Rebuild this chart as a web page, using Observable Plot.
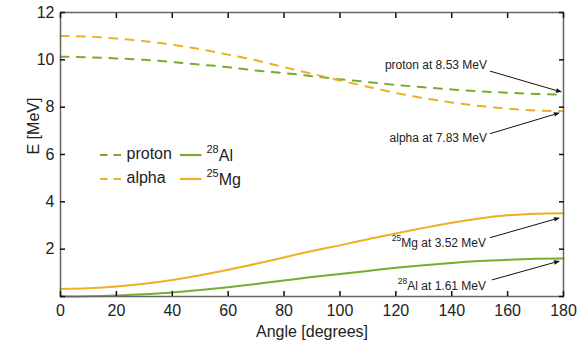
<!DOCTYPE html>
<html>
<head>
<meta charset="utf-8">
<script src="https://cdn.jsdelivr.net/npm/d3@7"></script>
<script src="https://cdn.jsdelivr.net/npm/@observablehq/plot@0.6"></script>
<style>
  html, body { margin: 0; padding: 0; background: #fff; }
  #chart { width: 581px; height: 343px; }
  #chart svg { display: block; }
</style>
</head>
<body>
<div id="chart"></div>
<script>
// ---- data ----
const angles = [0, 10, 20, 30, 40, 50, 60, 70, 80, 90, 100, 110, 120, 130, 140, 150, 160, 170, 180];
const proton = [10.13, 10.11, 10.06, 10.00, 9.91, 9.80, 9.69, 9.55, 9.44, 9.31, 9.18, 9.06, 8.94, 8.84, 8.75, 8.67, 8.61, 8.56, 8.53];
const alpha  = [11.01, 10.98, 10.90, 10.79, 10.64, 10.45, 10.22, 9.98, 9.69, 9.41, 9.13, 8.86, 8.60, 8.38, 8.20, 8.05, 7.94, 7.86, 7.83];
const al28   = [0.00, 0.01, 0.04, 0.09, 0.17, 0.27, 0.39, 0.53, 0.68, 0.82, 0.95, 1.08, 1.21, 1.32, 1.42, 1.50, 1.55, 1.59, 1.61];
const mg25   = [0.32, 0.35, 0.42, 0.54, 0.70, 0.90, 1.13, 1.38, 1.65, 1.92, 2.16, 2.42, 2.66, 2.90, 3.12, 3.30, 3.43, 3.50, 3.52];

const xTicks = [0, 20, 40, 60, 80, 100, 120, 140, 160, 180];
const yTicks = [0, 2, 4, 6, 8, 10, 12];

const xLabel = "Angle [degrees]";
const yLabel = "E [MeV]";

// series: name, superscript mass number, values, colour, dashed
const seriesNames  = ["proton", "alpha", "Al", "Mg"];
const seriesMass   = ["", "", "28", "25"];
const seriesValues = [proton, alpha, al28, mg25];
const seriesColors = ["#77AC30", "#EDB120", "#77AC30", "#EDB120"];
const seriesDashed = [true, true, false, false];

// end-point annotations: series index, angle, value (MeV)
const annotSeries = [0, 1, 3, 2];
const annotAngle  = [180, 180, 180, 180];
const annotValue  = [8.53, 7.83, 3.52, 1.61];
// layout offsets (px) relative to the annotated point: text end, arrow tail, arrow tip
const annotLayout = [
  {tx: -76, ty: -28, ax: -73, ay: -23, bx: -1, by: -2},
  {tx: -76, ty: 28,  ax: -73, ay: 23,  bx: -3, by: 2},
  {tx: -77, ty: 30,  ax: -73, ay: 25,  bx: -3, by: 5},
  {tx: -77, ty: 28,  ax: -71, ay: 22,  bx: -3, by: 3}
];

const FONT = "'Liberation Sans', Arial, Helvetica, sans-serif";

const rows = seriesNames.map((name, s) =>
  angles.map((a, i) => ({series: name, angle: a, E: seriesValues[s][i]}))
);

function annotationsMark(index, scales) {
  const g = d3.create("svg:g").attr("font-family", FONT).attr("font-size", 12);
  annotSeries.forEach((s, k) => {
    const px = scales.x(annotAngle[k]);
    const py = scales.y(annotValue[k]);
    const L = annotLayout[k];
    const t = g.append("text")
      .attr("x", px + L.tx).attr("y", py + L.ty)
      .attr("text-anchor", "end").attr("dominant-baseline", "middle")
      .attr("fill", "#222");
    if (seriesMass[s]) {
      t.append("tspan").attr("font-size", 8.5).attr("dy", "-0.45em").text(seriesMass[s]);
      t.append("tspan").attr("dy", "0.45em").text(seriesNames[s] + " at " + annotValue[k].toFixed(2) + " MeV");
    } else {
      t.text(seriesNames[s] + " at " + annotValue[k].toFixed(2) + " MeV");
    }
    // arrow
    const x1 = px + L.ax, y1 = py + L.ay, x2 = px + L.bx, y2 = py + L.by;
    const ang = Math.atan2(y2 - y1, x2 - x1);
    const hl = 6, hw = 2.3;
    const bxp = x2 - hl * Math.cos(ang), byp = y2 - hl * Math.sin(ang);
    g.append("line").attr("x1", x1).attr("y1", y1).attr("x2", bxp).attr("y2", byp)
      .attr("stroke", "#111").attr("stroke-width", 1);
    const nx = -Math.sin(ang) * hw, ny = Math.cos(ang) * hw;
    g.append("path")
      .attr("d", `M${x2},${y2}L${bxp + nx},${byp + ny}L${bxp - nx},${byp - ny}Z`)
      .attr("fill", "#111");
  });
  return g.node();
}

const lineMarks = seriesNames.map((name, s) =>
  Plot.line(rows[s], {
    x: "angle", y: "E",
    stroke: seriesColors[s],
    strokeWidth: 2,
    strokeDasharray: seriesDashed[s] ? "8,8.3" : null,
    curve: "natural"
  })
);

const plot = Plot.plot({
  width: 581,
  height: 343,
  marginLeft: 60,
  marginRight: 18,
  marginTop: 12,
  marginBottom: 47,
  style: {fontFamily: FONT, fontSize: "16px", color: "#222", background: "#fff"},
  x: {domain: [0, 180]},
  y: {domain: [0, 12]},
  marks: [
    ...lineMarks,
    Plot.frame({stroke: "#666", strokeWidth: 1.5}),
    Plot.axisX({anchor: "bottom", ticks: xTicks, tickSize: -5, tickPadding: 13, strokeWidth: 1.5, stroke: "#111", label: null, fill: "#222"}),
    Plot.axisX({anchor: "top", ticks: xTicks, tickSize: -5, strokeWidth: 1.5, stroke: "#111", tickFormat: () => "", label: null}),
    Plot.axisY({anchor: "left", ticks: yTicks, tickSize: -5, tickPadding: 11, strokeWidth: 1.5, stroke: "#111", tickFormat: d => d === 0 ? "" : String(d), label: null, fill: "#222"}),
    Plot.axisY({anchor: "right", ticks: yTicks, tickSize: -5, strokeWidth: 1.5, stroke: "#111", tickFormat: () => "", label: null}),
    Plot.text([xLabel], {frameAnchor: "bottom", lineAnchor: "middle", dy: 35, fontSize: 16, fill: "#222"}),
    Plot.text([yLabel], {frameAnchor: "left", lineAnchor: "middle", rotate: -90, dx: -27, fontSize: 16, fill: "#222"}),
    annotationsMark
  ]
});

// legend (inside plot area, upper-left of middle)
const svg = d3.select(plot);
const leg = svg.append("g").attr("font-family", FONT).attr("font-size", 16).attr("fill", "#222").attr("text-anchor", "start");
const legX = [100, 180];      // sample start per column
const legY = [155, 179];      // row centre
const legOrder = [[0, 1], [2, 3]]; // columns -> series indices
legOrder.forEach((col, c) => {
  col.forEach((s, r) => {
    const y = legY[r];
    leg.append("line")
      .attr("x1", legX[c]).attr("x2", legX[c] + 21.5)
      .attr("y1", y).attr("y2", y)
      .attr("stroke", seriesColors[s]).attr("stroke-width", 2.2)
      .attr("stroke-dasharray", seriesDashed[s] ? "7.5,6" : null);
    const t = leg.append("text")
      .attr("x", legX[c] + 26.5).attr("y", y)
      .attr("text-anchor", "start")
      .attr("dominant-baseline", "middle");
    if (seriesMass[s]) {
      t.append("tspan").attr("font-size", 11).attr("dy", "-0.45em").text(seriesMass[s]);
      t.append("tspan").attr("dy", "0.45em").text(seriesNames[s]);
    } else {
      t.text(seriesNames[s]);
    }
  });
});

document.getElementById("chart").appendChild(plot);
</script>
</body>
</html>
